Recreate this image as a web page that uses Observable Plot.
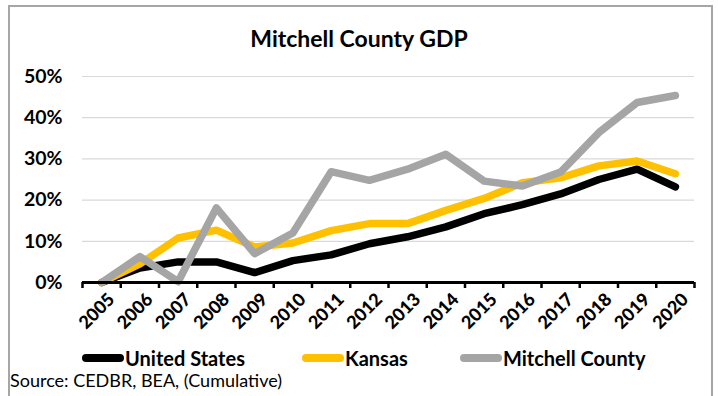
<!DOCTYPE html>
<html>
<head>
<meta charset="utf-8">
<script src="https://cdn.jsdelivr.net/npm/d3@7"></script>
<script src="https://cdn.jsdelivr.net/npm/@observablehq/plot@0.6"></script>
<style>
  html, body { margin: 0; padding: 0; background: #fff; }
  #wrap { position: relative; width: 718px; height: 396px; overflow: hidden; font-family: Lato, "Open Sans", sans-serif; }
  #frame { position: absolute; left: 8px; top: 5px; width: 705px; height: 400px; border: 2px solid #a6a6a6; border-bottom: none; box-sizing: border-box; }
  #title { position: absolute; left: 0; width: 718px; top: 23px; text-align: center; font-weight: 700; font-size: 23px; color: #000; line-height: 30px; }
  #chart { position: absolute; left: 0; top: 0; }
  .leg { position: absolute; top: 346px; display: flex; align-items: center; font-weight: 700; font-size: 20px; line-height: 24px; color: #000; }
  .sw { width: 42px; height: 8px; border-radius: 4px; margin-right: 1px; }
  #source { position: absolute; left: 10px; top: 368px; font-size: 18px; line-height: 24px; color: #000; }
</style>
</head>
<body>
<div id="wrap">
  <div id="frame"></div>
  <div id="chart"></div>
  <div id="title">Mitchell County GDP</div>
  <div id="legend"></div>
  <div id="source">Source: CEDBR, BEA, (Cumulative)</div>
</div>
<script>
const years = [2005, 2006, 2007, 2008, 2009, 2010, 2011, 2012, 2013, 2014, 2015, 2016, 2017, 2018, 2019, 2020];
const unitedStates = [0, 3.5, 5.0, 5.0, 2.4, 5.3, 6.7, 9.4, 11.1, 13.5, 16.7, 18.9, 21.5, 25.0, 27.5, 23.2];
const kansas = [0, 4.5, 10.8, 12.7, 8.6, 9.6, 12.6, 14.3, 14.3, 17.5, 20.4, 24.2, 25.4, 28.3, 29.5, 26.4];
const mitchell = [0, 6.3, 0.2, 18.1, 7.0, 12.0, 26.9, 24.8, 27.5, 31.1, 24.6, 23.4, 26.8, 36.4, 43.7, 45.4];
const seriesNames = ["United States", "Kansas", "Mitchell County"];
const seriesColors = ["#000000", "#FFC000", "#A5A5A5"];
const yTicks = [0, 10, 20, 30, 40, 50];

const seriesValues = [unitedStates, kansas, mitchell];
const data = [];
seriesNames.forEach((name, s) => {
  years.forEach((yr, i) => data.push({ series: name, year: yr, value: seriesValues[s][i] }));
});
const bounds = d3.range(years[0] - 0.5, years[years.length - 1] + 1, 1);

const font = "Lato, 'Open Sans', sans-serif";
const chart = Plot.plot({
  width: 718,
  height: 340,
  marginLeft: 82,
  marginRight: 24,
  marginTop: 76,
  marginBottom: 58,
  style: { fontFamily: font, background: "transparent", overflow: "visible" },
  x: { type: "linear", domain: [bounds[0], bounds[bounds.length - 1]] },
  y: { domain: [0, 50] },
  color: { domain: seriesNames, range: seriesColors },
  marks: [
    Plot.ruleY(yTicks.filter(d => d > 0), { stroke: "#d9d9d9", strokeWidth: 1.2 }),
    Plot.axisY({ ticks: yTicks, tickSize: 0, tickPadding: 20, tickFormat: d => d + "%", fontSize: 19.5, fontWeight: 700, fill: "#000", label: null }),
    ...seriesNames.map(name =>
      Plot.line(data.filter(d => d.series === name), {
        x: "year", y: "value", stroke: "series",
        strokeWidth: 7.5, strokeLinecap: "round", strokeLinejoin: "round"
      })
    ),
    Plot.ruleY([0], { stroke: "#000", strokeWidth: 3 }),
    Plot.axisX({ ticks: bounds, tickSize: 6, tickFormat: () => "", stroke: "#000", strokeWidth: 2.5, label: null }),
    Plot.text(years, { x: d => d, y: 0, text: d => String(d), rotate: -45, textAnchor: "end", dx: 10, dy: 14, fontSize: 18, fontWeight: 900, fill: "#000" })
  ]
});
document.getElementById("chart").appendChild(chart);

const legendPos = [82, 302, 460];
const legend = document.getElementById("legend");
seriesNames.forEach((name, i) => {
  const item = document.createElement("div");
  item.className = "leg";
  item.style.left = legendPos[i] + "px";
  const sw = document.createElement("div");
  sw.className = "sw";
  sw.style.background = seriesColors[i];
  item.appendChild(sw);
  const t = document.createElement("span");
  t.textContent = name;
  item.appendChild(t);
  legend.appendChild(item);
});
</script>
</body>
</html>
